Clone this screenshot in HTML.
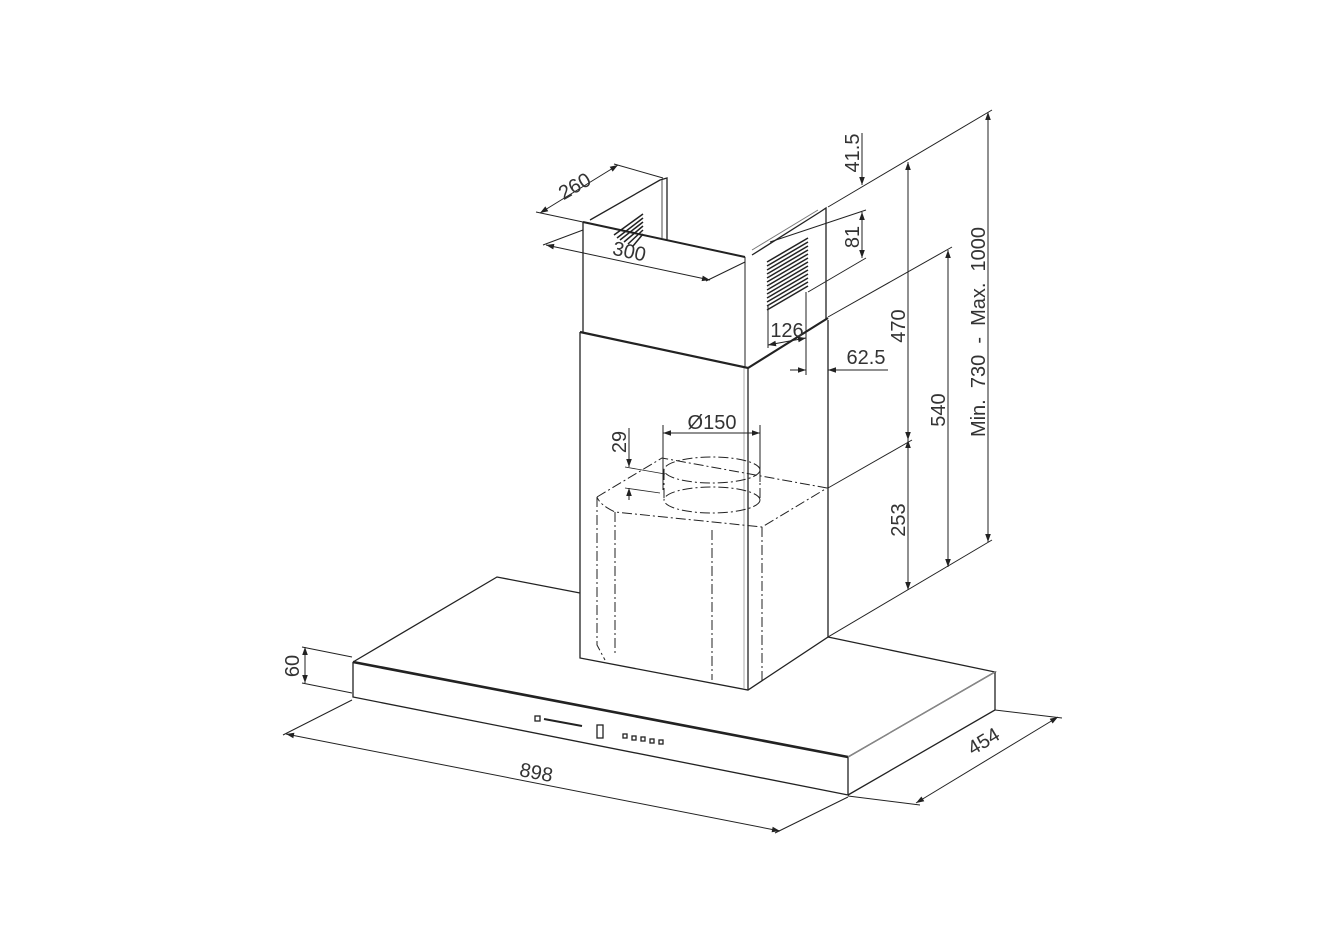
<!DOCTYPE html>
<html><head><meta charset="utf-8"><style>
html,body{margin:0;padding:0;background:#fff;}
svg{display:block;}
text{font-family:"Liberation Sans",sans-serif;font-size:20px;fill:#333;}
</style></head><body>
<svg width="1344" height="943" viewBox="0 0 1344 943" xmlns="http://www.w3.org/2000/svg">
<defs>
<marker id="a" viewBox="0 0 10 10" refX="10" refY="5" markerWidth="14" markerHeight="8" markerUnits="userSpaceOnUse" orient="auto-start-reverse"><path d="M0,1.5 L10,5 L0,8.5z" fill="#222"/></marker>
</defs>
<g stroke="#222" fill="none" stroke-width="1.3">
<!-- hood -->
<path d="M353,662 L497,577 L580,593"/>
<path d="M828,637 L995,672 L848,757"/>
<path d="M353,662 L848,757" stroke-width="2.6"/>
<path d="M353,662 L353,697 L848,795 L848,757"/>
<path d="M848,795 L995,710 L995,672"/>
<path d="M848,757 L995,672" stroke="#888"/>
<!-- controls -->
<rect x="535" y="716" width="5" height="5"/>
<path d="M544,719 L582,726" stroke-width="2"/>
<rect x="597" y="725" width="6" height="13"/>
<g><rect x="623" y="734" width="4" height="4"/><rect x="632" y="736" width="4" height="4"/><rect x="641" y="737" width="4" height="4"/><rect x="650" y="739" width="4" height="4"/><rect x="659" y="740" width="4" height="4"/></g>
<!-- lower chimney -->
<path d="M580,332 L580,658 L748,690 L828,637 L828,320"/>
<path d="M748,368 L748,690"/><path d="M744,368 L744,688" stroke="#999" stroke-width="0.8"/>
<path d="M580,332 L748,368 L828,318" stroke-width="2.2"/>
<!-- upper chimney -->
<path d="M583,222 L583,332"/>
<path d="M583,222 L745,257" stroke-width="2"/>
<path d="M745,257 L745,368" stroke-width="1"/>
<path d="M752,255 L820,212 L826,208 L826,320"/>
<path d="M752,250 L818,210" stroke="#777" stroke-width="1"/>
<path d="M590,220 L660,180 L667,178 L667,240"/><path d="M662,180 L662,238" stroke="#777"/>
<!-- louvers -->
<g stroke-width="1.5">
<path d="M614,235 L643,214"/><path d="M617,238 L643,218"/><path d="M620,240 L643,222"/><path d="M624,242 L643,226"/><path d="M628,244 L643,230"/><path d="M633,246 L643,234"/>
<path d="M767,262 L808,238"/><path d="M767,266 L808,242"/><path d="M767,270 L808,246"/><path d="M767,274 L808,250"/><path d="M767,278 L808,254"/><path d="M767,282 L808,258"/><path d="M767,286 L808,262"/><path d="M767,290 L808,266"/><path d="M767,294 L808,270"/><path d="M767,298 L808,274"/><path d="M767,302 L808,278"/><path d="M767,306 L808,282"/><path d="M767,310 L808,286"/>
</g>
<!-- dash-dot motor box -->
<g stroke-dasharray="10,3,2,3" stroke-width="1">
<path d="M597,497 L662,458 L827,488 L762,527 L615,512 Q600,505 597,497"/>
<path d="M597,497 L597,645 L605,660"/>
<path d="M615,512 L615,656"/>
<path d="M712,530 L712,680"/>
<path d="M762,527 L762,684"/>
<ellipse cx="712" cy="470" rx="48" ry="13"/>
<ellipse cx="712" cy="500" rx="48" ry="13"/>
<path d="M664,470 L664,500 M760,470 L760,500"/>
</g>
<!-- dimension lines -->
<g stroke-width="1">
<path d="M583,222 L536,212 M663,178 L614,164"/>
<path d="M540,213 L618,165" marker-start="url(#a)" marker-end="url(#a)"/>
<path d="M583,230 L543,245 M745,262 L706,281"/>
<path d="M546,245 L710,280" marker-start="url(#a)" marker-end="url(#a)"/>
<path d="M828,207 L992,110"/>
<path d="M770,242 L866,210"/>
<path d="M808,292 L866,258"/>
<path d="M828,317 L952,247"/>
<path d="M828,488 L912,440"/>
<path d="M828,637 L992,540"/>
<path d="M862,133 L862,185" marker-end="url(#a)"/>
<path d="M862,212 L862,258" marker-start="url(#a)" marker-end="url(#a)"/>
<path d="M908,162 L908,440" marker-start="url(#a)" marker-end="url(#a)"/>
<path d="M908,440 L908,590" marker-start="url(#a)" marker-end="url(#a)"/>
<path d="M948,250 L948,567" marker-start="url(#a)" marker-end="url(#a)"/>
<path d="M988,112 L988,542" marker-start="url(#a)" marker-end="url(#a)"/>
<path d="M768,305 L768,348 M806,292 L806,375"/>
<path d="M768,345 L806,338" marker-start="url(#a)" marker-end="url(#a)"/>
<path d="M790,370 L806,370" marker-end="url(#a)"/>
<path d="M888,370 L828,370" marker-end="url(#a)"/>
<path d="M663,425 L663,490 M760,425 L760,482"/>
<path d="M663,433 L760,433" marker-start="url(#a)" marker-end="url(#a)"/>
<path d="M629,428 L629,467" marker-end="url(#a)"/>
<path d="M629,500 L629,488" marker-end="url(#a)"/>
<path d="M625,467 L665,474 M625,488 L660,493" stroke-width="0.8"/>
<path d="M302,647 L352,657 M302,683 L352,693"/>
<path d="M305,647 L305,683" marker-start="url(#a)" marker-end="url(#a)"/>
<path d="M352,700 L283,735 M848,797 L775,833"/>
<path d="M286,734 L780,831" marker-start="url(#a)" marker-end="url(#a)"/>
<path d="M848,796 L920,805 M995,710 L1062,718"/>
<path d="M916,803 L1058,717" marker-start="url(#a)" marker-end="url(#a)"/>
</g>
</g>
<g>
<text transform="translate(578,192) rotate(-30)" text-anchor="middle">260</text>
<text transform="translate(628,258) rotate(12)" text-anchor="middle">300</text>
<text transform="translate(859,153) rotate(-90)" text-anchor="middle">41.5</text>
<text transform="translate(859,237) rotate(-90)" text-anchor="middle">81</text>
<text x="787" y="337" text-anchor="middle">126</text>
<text x="866" y="364" text-anchor="middle">62.5</text>
<text transform="translate(905,326) rotate(-90)" text-anchor="middle">470</text>
<text transform="translate(905,520) rotate(-90)" text-anchor="middle">253</text>
<text transform="translate(945,410) rotate(-90)" text-anchor="middle">540</text>
<text transform="translate(985,332) rotate(-90)" text-anchor="middle" xml:space="preserve">Min.  730  -  Max.  1000</text>
<text x="712" y="429" text-anchor="middle">Ø150</text>
<text transform="translate(626,442) rotate(-90)" text-anchor="middle">29</text>
<text transform="translate(299,666) rotate(-90)" text-anchor="middle">60</text>
<text transform="translate(535,779) rotate(11)" text-anchor="middle">898</text>
<text transform="translate(987,747) rotate(-31)" text-anchor="middle">454</text>
</g>
</svg>
</body></html>
